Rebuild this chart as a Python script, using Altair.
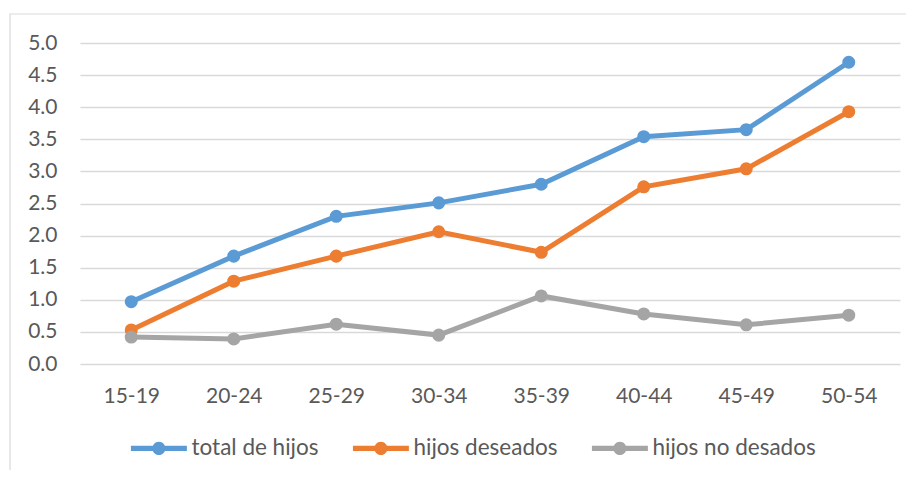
import altair as alt
import pandas as pd

categories = ["15-19", "20-24", "25-29", "30-34", "35-39", "40-44", "45-49", "50-54"]
total_hijos = [0.97, 1.68, 2.30, 2.51, 2.80, 3.54, 3.65, 4.70]
hijos_deseados = [0.53, 1.29, 1.68, 2.06, 1.74, 2.76, 3.04, 3.93]
hijos_no_deseados = [0.42, 0.39, 0.62, 0.45, 1.06, 0.78, 0.61, 0.76]
series_names = ["total de hijos", "hijos deseados", "hijos no desados"]
colors = ["#5B9BD5", "#ED7D31", "#A5A5A5"]

rows = []
for name, vals in zip(series_names, [total_hijos, hijos_deseados, hijos_no_deseados]):
    for c, v in zip(categories, vals):
        rows.append({"grupo": c, "valor": v, "serie": name})
df = pd.DataFrame(rows)

FONT = "Lato"
TXT = "#595959"

legend_shape = ("M-1,-0.27 L1.5,-0.27 L1.5,0.27 L-1,0.27 Z "
                "M2.5,-0.27 L5,-0.27 L5,0.27 L2.5,0.27 Z "
                "M1.3,0 A0.7,0.7 0 1,1 2.7,0 A0.7,0.7 0 1,1 1.3,0 Z")

color = alt.Color(
    "serie:N",
    scale=alt.Scale(domain=series_names, range=colors),
    legend=alt.Legend(
        title=None, orient="none", direction="horizontal",
        legendX=49, legendY=394,
        symbolType=legend_shape, symbolSize=348, symbolStrokeWidth=0,
        symbolOpacity=1, labelOffset=40, columnPadding=32, labelLimit=400,
        labelFont=FONT, labelFontSize=22.5, labelColor=TXT,
    ),
)

base = alt.Chart(df).encode(
    x=alt.X("grupo:N", sort=categories, title=None,
            scale=alt.Scale(paddingInner=0, paddingOuter=0.5),
            axis=alt.Axis(labelAngle=0, ticks=False, domain=False, grid=False,
                          labelPadding=21, labelFont=FONT, labelFontSize=21,
                          labelColor=TXT)),
    y=alt.Y("valor:Q", title=None,
            scale=alt.Scale(domain=[0, 5], nice=False),
            axis=alt.Axis(values=[0, 0.5, 1, 1.5, 2, 2.5, 3, 3.5, 4, 4.5, 5],
                          format=".1f", ticks=False, domain=False,
                          gridColor="#D9D9D9", gridWidth=1.3,
                          labelPadding=23, labelFont=FONT, labelFontSize=21,
                          labelColor=TXT)),
    color=color,
)

lines = base.mark_line(strokeWidth=5)
points = base.mark_point(filled=True, size=170, opacity=1, shape="circle")

frame = alt.Chart(alt.Data(values=[{}])).mark_rect(
    fill=None, stroke="#D9D9D9", strokeWidth=1.2
).encode(
    x=alt.value(-70), x2=alt.value(930),
    y=alt.value(-29), y2=alt.value(500),
)

chart = alt.layer(frame, lines, points).properties(
    width=820, height=321,
    autosize=alt.AutoSizeParams(type="none"),
    padding={"left": 72, "top": 35, "right": 6, "bottom": 106},
).configure_view(stroke=None)

chart.save("out.html", embed_options={"renderer": "svg", "actions": False})
